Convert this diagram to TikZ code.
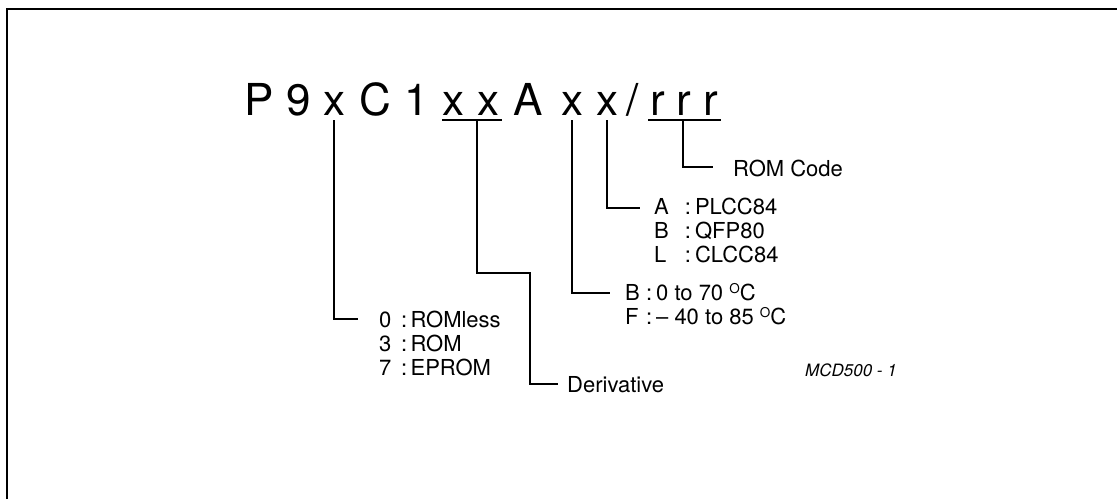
\documentclass[tikz,border=0pt]{standalone}
\usepackage{fontspec}
\setmainfont{TeX Gyre Heros}
\newfontfamily\labfont{TeX Gyre Heros}
\newfontfamily\titfont{TeX Gyre Heros}
\newfontfamily\notefont{TeX Gyre Heros}
\tikzset{
  titlechar/.style={font=\titfont\fontsize{44}{44}\selectfont, inner sep=0pt, anchor=base},
  lab/.style={font=\labfont\fontsize{22}{24}\selectfont, inner sep=0pt, anchor=base west},
  note/.style={font=\notefont\itshape\fontsize{17}{20}\selectfont, inner sep=0pt, anchor=base west},
  conn/.style={line width=1.3pt},
  frameline/.style={line width=2pt}
}
\newcommand{\degC}{\raisebox{7pt}{\fontsize{13.5}{13.5}\selectfont O}C}
\begin{document}
\begin{tikzpicture}[x=1pt,y=-1pt]
\useasboundingbox (0,0) rectangle (1117,499);
% frame (top and left only)
\coordinate (f1) at (7,499);
\coordinate (f2) at (7,9);
\coordinate (f3) at (1117,9);
\draw[frameline] (f1) -- (f2) -- (f3);

% title characters
\node[titlechar] (c1)  at (259,115) {P};
\node[titlechar] (c2)  at (299,115) {9};
\node[titlechar] (c3)  at (334,115) {x};
\node[titlechar] (c4)  at (375,115) {C};
\node[titlechar] (c5)  at (417,115) {1};
\node[titlechar] (c6)  at (453,115) {x};
\node[titlechar] (c7)  at (488,115) {x};
\node[titlechar] (c8)  at (528,115) {A};
\node[titlechar] (c9)  at (572,115) {x};
\node[titlechar] (c10) at (607,115) {x};
\node[titlechar] (c11) at (633,115) {/};
\node[titlechar] (c12) at (658,115) {r};
\node[titlechar] (c13) at (684,115) {r};
\node[titlechar] (c14) at (711,115) {r};

% underlines
\coordinate (ux1) at (442,120);
\coordinate (ux2) at (502,120);
\coordinate (uxm) at (477,120);
\coordinate (ur1) at (648,120);
\coordinate (ur2) at (721,120);
\coordinate (urm) at (683,120);
\draw[conn] (ux1) -- (ux2);
\draw[conn] (ur1) -- (ur2);

% connector end points
\coordinate (e0) at (358,319);
\coordinate (d1) at (530,273);
\coordinate (e1) at (558,384);
\coordinate (e3) at (610,293);
\coordinate (e4) at (640,208);
\coordinate (e5) at (713,167);

% connectors
\draw[conn] ([yshift=-5pt]c3.south) |- (e0);
\draw[conn] (uxm) |- (d1) |- (e1);
\draw[conn] ([yshift=-5pt]c9.south) |- (e3);
\draw[conn] ([yshift=-5pt]c10.south) |- (e4);
\draw[conn] (urm) |- (e5);

% labels
\node[lab] (romcode) at (733,176) {ROM Code};

\node[lab] (pkgA) at (654,214) {\makebox[1.4em][l]{A}:\hspace{0.18em}PLCC84};
\node[lab] (pkgB) at (654,238) {\makebox[1.4em][l]{B}:\hspace{0.18em}QFP80};
\node[lab] (pkgL) at (654,262) {\makebox[1.4em][l]{L}:\hspace{0.18em}CLCC84};

\node[lab] (tmpB) at (625,300) {\makebox[0.95em][l]{B}:\hspace{0.18em}0 to 70 \degC};
\node[lab] (tmpF) at (625,324) {\makebox[0.95em][l]{F}:\hspace{0.18em}\textendash\ 40 to 85 \degC};

\node[lab] (rom0) at (379,327) {\makebox[1em][l]{0}:\hspace{0.15em}ROMless};
\node[lab] (rom3) at (379,351) {\makebox[1em][l]{3}:\hspace{0.15em}ROM};
\node[lab] (rom7) at (379,375) {\makebox[1em][l]{7}:\hspace{0.15em}EPROM};

\node[lab] (deriv) at (567,392) {Derivative};

\node[note] (mcd) at (805,376) {MCD500 - 1};
\end{tikzpicture}
\end{document}
